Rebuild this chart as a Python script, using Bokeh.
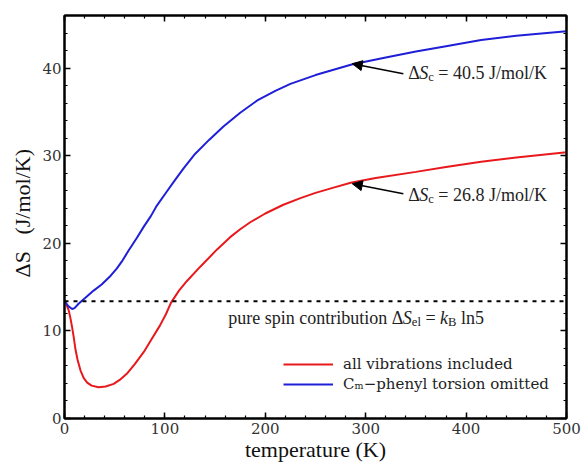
from bokeh.plotting import figure
from bokeh.models import (Range1d, LinearAxis, SingleIntervalTicker, Label, Arrow,
                          NormalHead, Legend, LegendItem, Span, CustomJSTickFormatter)
from bokeh.embed import file_html
from bokeh.resources import INLINE
import math

# ---------------- data ----------------
temp_all = [0, 2, 4.3, 6, 7.6, 9.3, 10.9, 13, 15.9, 19.2, 22.6, 27, 34, 41, 49, 55, 62, 70,
            79, 87, 95, 101, 106, 114, 122, 135, 152, 165, 175, 185, 200, 218, 235, 250,
            268, 285, 310, 350, 380, 415, 450, 500]
ds_all = [13.35, 13.0, 12.3, 11.4, 10.4, 9.2, 7.9, 6.7, 5.5, 4.6, 4.1, 3.75, 3.57, 3.65, 3.95,
          4.4, 5.1, 6.2, 7.6, 9.1, 10.6, 11.9, 13.2, 14.6, 15.7, 17.3, 19.3, 20.7, 21.6, 22.4,
          23.4, 24.4, 25.15, 25.75, 26.35, 26.9, 27.45, 28.15, 28.7, 29.3, 29.8, 30.4]

temp_omit = [0, 2, 4, 7.6, 10, 14, 20, 29, 37, 46, 52, 57, 64, 72, 79, 86, 92, 100, 110, 119,
             130, 144, 158, 175, 192, 210, 225, 250, 286, 320, 350, 380, 415, 450, 500]
ds_omit = [13.4, 13.1, 12.8, 12.5, 12.6, 13.1, 13.7, 14.6, 15.3, 16.3, 17.1, 17.9, 19.2, 20.6,
           21.9, 23.1, 24.3, 25.6, 27.2, 28.6, 30.2, 31.8, 33.3, 34.9, 36.3, 37.4, 38.2, 39.2,
           40.4, 41.2, 41.9, 42.5, 43.2, 43.7, 44.2]

spin_only = 13.38          # k_B ln5 per mole
series_labels = ["all vibrations included", "C\u2098\u2212phenyl torsion omitted"]
ds_c_values = [40.5, 26.8]  # annotated values
ds_c_temps = [286.6, 286.6]
x_title = "temperature (K)"
y_title = "\u0394S\u00a0\u00a0\u00a0(J/mol/K)"

FONT = "'Liberation Serif'"
GUIDE_FONT = "DejaVu Serif"
RED = "#e8191c"
BLUE = "#1f1fd8"

p = figure(width=581, height=470, output_backend="svg", toolbar_location=None,
           x_range=Range1d(0, 500), y_range=Range1d(0, 46),
           min_border_left=64, min_border_right=15, min_border_top=15, min_border_bottom=52)
p.background_fill_color = "white"
p.border_fill_color = "white"
p.grid.visible = False
p.outline_line_color = "black"
p.outline_line_width = 2

def style_axis(ax, labels=True):
    ax.axis_line_width = 2
    ax.axis_line_color = "black"
    ax.major_tick_in = 6
    ax.major_tick_out = 0
    ax.minor_tick_in = 3
    ax.minor_tick_out = 0
    ax.major_tick_line_width = 1.5
    ax.minor_tick_line_width = 1.2
    ax.major_tick_line_color = "black"
    ax.minor_tick_line_color = "black"
    ax.major_label_text_font = GUIDE_FONT
    ax.major_label_text_color = "#333333"
    if labels:
        ax.major_label_text_font_size = "15px"
    else:
        ax.formatter = CustomJSTickFormatter(code="return ''")
        ax.major_label_text_font_size = "1px"
        ax.major_label_standoff = 0

p.xaxis.ticker = SingleIntervalTicker(interval=100, num_minor_ticks=5)
p.yaxis.ticker = SingleIntervalTicker(interval=10, num_minor_ticks=5)
style_axis(p.xaxis[0])
style_axis(p.yaxis[0])
p.xaxis.major_label_standoff = 4
p.yaxis.major_label_standoff = 3
p.xaxis.axis_label = x_title
p.xaxis.axis_label_text_font = FONT
p.xaxis.axis_label_text_font_size = "22px"
p.xaxis.axis_label_text_font_style = "normal"
p.xaxis.axis_label_text_color = "#111111"
p.xaxis.axis_label_standoff = 0

top = LinearAxis(ticker=SingleIntervalTicker(interval=100, num_minor_ticks=5))
style_axis(top, labels=False)
p.add_layout(top, "above")
right = LinearAxis(ticker=SingleIntervalTicker(interval=10, num_minor_ticks=5))
style_axis(right, labels=False)
p.add_layout(right, "right")

# spin-only reference line
p.add_layout(Span(location=spin_only, dimension="width", line_color="black",
                  line_width=2, line_dash="4 5"))

r_red = p.line(temp_all, ds_all, line_color=RED, line_width=2)
r_blue = p.line(temp_omit, ds_omit, line_color=BLUE, line_width=2)

legend = Legend(items=[LegendItem(label=series_labels[0], renderers=[r_red]),
                       LegendItem(label=series_labels[1], renderers=[r_blue])],
                location=(219, 24), border_line_color=None, background_fill_alpha=0,
                label_text_font=GUIDE_FONT, label_text_font_size="15px",
                label_text_color="#222222",
                glyph_width=50, glyph_height=20, label_height=20, spacing=0,
                padding=0, margin=0, label_standoff=10)
p.add_layout(legend)

# ---------------- rich text helper ----------------
W_REG = {" ": .25, "(": .333, ")": .333, ".": .25, "/": .278, "=": .564, "B": .667,
         "C": .667, "J": .389, "K": .722, "S": .556, "a": .444, "b": .5, "c": .444, "d": .5,
         "e": .444, "i": .278, "l": .278, "m": .778, "n": .5, "o": .5, "p": .5, "r": .333,
         "s": .389, "t": .278, "u": .5, "\u0394": .612}
W_IT = {"S": .5, "k": .444}

def char_w(ch, style):
    if style == "italic" and ch in W_IT:
        return W_IT[ch]
    return W_REG.get(ch, 0.5)

def runs_label(x, y, runs, size, color="#222222"):
    off = 0.0
    for text, style, scale, dy in runs:
        fs = size * scale
        stripped = text.lstrip(" ")
        off += (len(text) - len(stripped)) * W_REG[" "] * fs
        shown = stripped.rstrip(" ")
        p.add_layout(Label(x=x, y=y, x_offset=off, y_offset=dy, text=shown,
                           text_font=FONT, text_font_style=style,
                           text_font_size=f"{fs:.1f}px", text_baseline="alphabetic",
                           text_align="left", text_color=color))
        off += sum(char_w(ch, style) for ch in stripped) * fs

def ds_c(val):
    return [("\u0394", "normal", 1, 0), ("S", "italic", 1, 0), ("c", "normal", 0.7, -4),
            (f" = {val} J/mol/K", "normal", 1, 0)]

runs_label(342.3, 39.4, ds_c(ds_c_values[0]), 18)
runs_label(342.3, 25.5, ds_c(ds_c_values[1]), 18)

runs_label(163.2, 11.5, [("pure spin contribution ", "normal", 1, 0), ("\u0394", "normal", 1, 0),
                         ("S", "italic", 1, 0), ("el", "normal", 0.7, -4),
                         (" = ", "normal", 1, 0), ("k", "italic", 1, 0),
                         ("B", "normal", 0.7, -4), (" ln5", "normal", 1, 0)], 18)

for t_tip, v_tip in zip(ds_c_temps, ds_c_values):
    p.add_layout(Arrow(end=NormalHead(size=10, fill_color="black", line_color="black"),
                       x_start=337.5, y_start=v_tip - 1.15, x_end=t_tip, y_end=v_tip,
                       line_width=1.5, line_color="black"))

# y title, in the left side panel so that it is not clipped to the frame
p.add_layout(Label(x=0, x_offset=-42, y=16.1, text=y_title, text_font=FONT,
                   angle=math.pi / 2, text_font_size="22px", text_align="left",
                   text_baseline="middle", text_color="#111111"), "left")

open("out.html", "w").write(file_html(p, INLINE))
